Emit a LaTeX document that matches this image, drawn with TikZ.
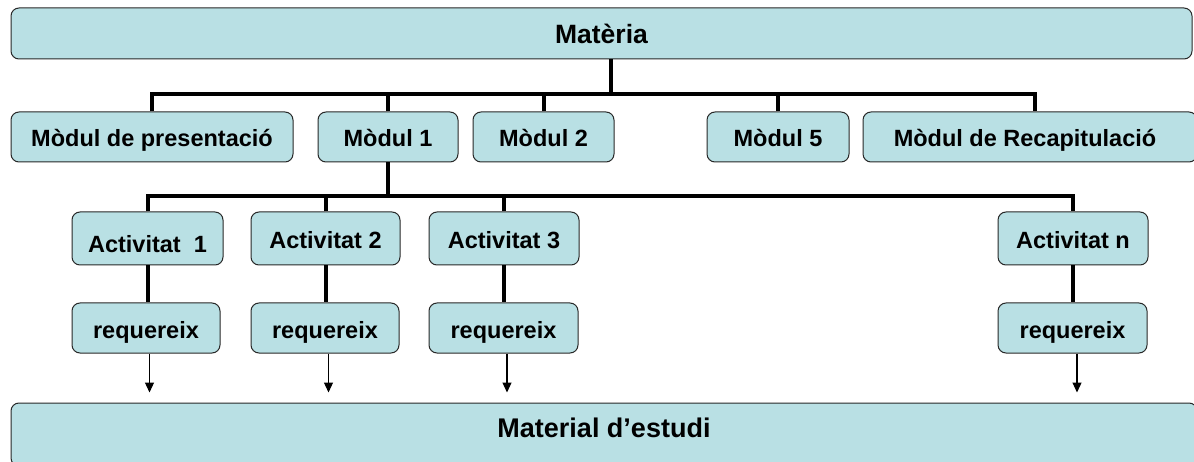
\documentclass[tikz,border=0pt]{standalone}
\usepackage{fontspec}
\setmainfont{Liberation Sans}
\usetikzlibrary{arrows.meta,calc}
\definecolor{boxfill}{RGB}{185,224,228}
\definecolor{boxline}{RGB}{40,40,40}
\begin{document}
\begin{tikzpicture}[x=1pt,y=-1pt,
  box/.style={draw=boxline, line width=1pt, fill=boxfill, rounded corners=8pt,
    inner sep=0pt, text height=20pt, text depth=0pt,
    font=\fontsize{23.5}{26}\selectfont\bfseries},
  bigbox/.style={box, font=\fontsize{26.5}{30}\selectfont\bfseries},
  bus/.style={line width=4pt, draw=black},
  arr/.style={line width=1.2pt, draw=black, -{Triangle[width=9pt,length=10pt]}}]
\useasboundingbox (0,0) rectangle (1194,462);
% top
\node[bigbox, minimum width=1181pt, minimum height=51pt] (mat) at (601.5,33.5) {Matèria};
% modules
\node[box, minimum width=282pt, minimum height=50pt] (m0) at (152,137) {Mòdul de presentació};
\node[box, minimum width=140pt, minimum height=50pt] (m1) at (388,137) {Mòdul 1};
\node[box, minimum width=141pt, minimum height=50pt] (m2) at (543.5,137) {Mòdul 2};
\node[box, minimum width=142pt, minimum height=50pt] (m5) at (778,137) {Mòdul 5};
\node[box, minimum width=334pt, minimum height=50pt] (mr) at (1030,137) {\hspace*{-10pt}Mòdul de Recapitulació};
% activities
\node[box, minimum width=151pt, minimum height=53pt] (a1) at (147.5,238.5) {\raisebox{-4pt}{Activitat\ \ 1}};
\node[box, minimum width=149pt, minimum height=53pt] (a2) at (325.5,238.5) {Activitat 2};
\node[box, minimum width=150pt, minimum height=53pt] (a3) at (504,238.5) {Activitat 3};
\node[box, minimum width=150pt, minimum height=53pt] (an) at (1073,238.5) {Activitat n};
% requereix
\node[box, minimum width=148pt, minimum height=50pt] (r1) at (146,328) {requereix};
\node[box, minimum width=148pt, minimum height=50pt] (r2) at (325,328) {requereix};
\node[box, minimum width=149pt, minimum height=50pt] (r3) at (503.5,328) {requereix};
\node[box, minimum width=149pt, minimum height=50pt] (rn) at (1072.5,328) {requereix};
% study material
\node[bigbox, font=\fontsize{27}{30}\selectfont\bfseries, text depth=15pt,
  minimum width=1186pt, minimum height=63pt] (st) at (604,434.5) {Material d’estudi};
% connectors level 1
\coordinate (j0) at (611,94);
\draw[bus] (mat.south -| j0) -- (j0);
\draw[bus] (m0.north) -- (m0.north |- j0) -- ($(mr.north |- j0)+(5,0)$) -- ($(mr.north)+(5,0)$);
\draw[bus] (m1.north) -- (m1.north |- j0);
\draw[bus] (m2.north) -- (m2.north |- j0);
\draw[bus] (m5.north) -- (m5.north |- j0);
% connectors level 2
\coordinate (j1) at (388,196);
\draw[bus] (m1.south) -- (j1);
\draw[bus] (a1.north) -- (a1.north |- j1) -- (an.north |- j1) -- (an.north);
\draw[bus] (a2.north) -- (a2.north |- j1);
\draw[bus] (a3.north) -- (a3.north |- j1);
% activity to requereix
\draw[bus] (a1.south) -- (a1.south |- r1.north);
\draw[bus] (a2.south) -- (a2.south |- r2.north);
\draw[bus] (a3.south) -- (a3.south |- r3.north);
\draw[bus] (an.south) -- (an.south |- rn.north);
% arrows
\draw[arr] ($(r1.south)+(3.5,0)$) -- ($(r1.south |- st.north)+(3.5,-10)$);
\draw[arr] ($(r2.south)+(3.5,0)$) -- ($(r2.south |- st.north)+(3.5,-10)$);
\draw[arr] ($(r3.south)+(3.5,0)$) -- ($(r3.south |- st.north)+(3.5,-10)$);
\draw[arr] ($(rn.south)+(4.5,0)$) -- ($(rn.south |- st.north)+(4.5,-10)$);
\end{tikzpicture}
\end{document}
